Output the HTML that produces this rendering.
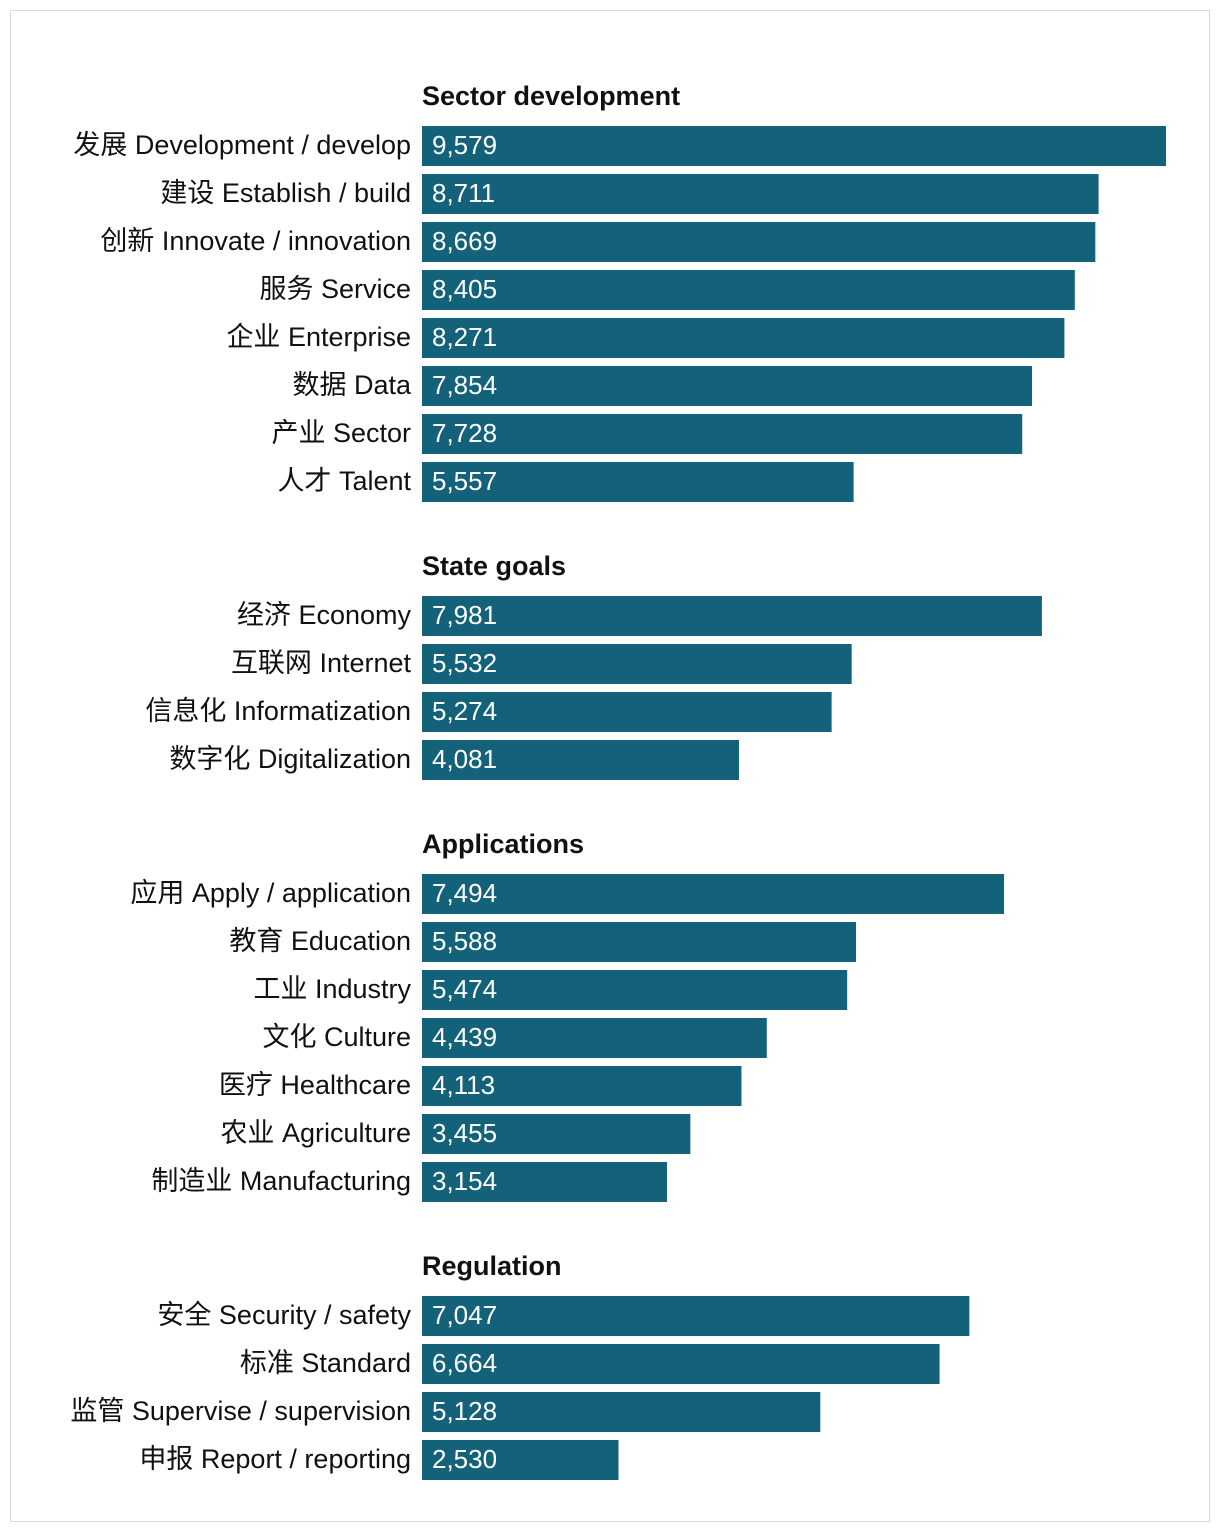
<!DOCTYPE html>
<html><head><meta charset="utf-8">
<style>
body{margin:0;background:#fff;}
#frame{position:absolute;left:10px;top:10px;width:1198px;height:1510px;border:1px solid #d9d9d9;}
svg{position:absolute;left:0;top:0;}
text{font-family:"Liberation Sans","Noto Sans CJK SC",sans-serif;}
</style></head>
<body>
<div id="frame"></div>
<svg id="chart" width="1220" height="1532"></svg>
<script>
const groupTitles=["Sector development","State goals","Applications","Regulation"];
const groupTops=[126,596,874,1296];
const labels0=["发展 Development / develop","建设 Establish / build","创新 Innovate / innovation","服务 Service","企业 Enterprise","数据 Data","产业 Sector","人才 Talent"];
const values0=[9579,8711,8669,8405,8271,7854,7728,5557];
const labels1=["经济 Economy","互联网 Internet","信息化 Informatization","数字化 Digitalization"];
const values1=[7981,5532,5274,4081];
const labels2=["应用 Apply / application","教育 Education","工业 Industry","文化 Culture","医疗 Healthcare","农业 Agriculture","制造业 Manufacturing"];
const values2=[7494,5588,5474,4439,4113,3455,3154];
const labels3=["安全 Security / safety","标准 Standard","监管 Supervise / supervision","申报 Report / reporting"];
const values3=[7047,6664,5128,2530];
const allLabels=[labels0,labels1,labels2,labels3];
const allValues=[values0,values1,values2,values3];

const NS="http://www.w3.org/2000/svg";
const svg=document.getElementById('chart');
const x0=422, maxV=9579, maxW=744;
function xScale(v){return v/maxV*maxW;}
function mk(tag,attrs){const e=document.createElementNS(NS,tag);for(const k in attrs)e.setAttribute(k,attrs[k]);svg.appendChild(e);return e;}
const fmt=v=>v.toLocaleString('en-US');
allValues.forEach((vals,g)=>{
  const t=mk('text',{x:x0,y:groupTops[g]-21,'font-size':27,'font-weight':'bold',fill:'#111'});
  t.textContent=groupTitles[g];
  
  
  vals.forEach((v,i)=>{
    const y=groupTops[g]+i*48;
    const r=mk('rect',{x:x0,y:y,width:xScale(v),height:40,fill:'#13627a'});
    
    
    const vl=mk('text',{x:x0+10,y:y+28,'font-size':26,fill:'#fff'});
    vl.textContent=fmt(v);
    
    
    const lb=mk('text',{x:411,y:y+28,'font-size':27,fill:'#111','text-anchor':'end'});
    lb.textContent=allLabels[g][i];
    
    
  });
});
</script>
</body></html>
